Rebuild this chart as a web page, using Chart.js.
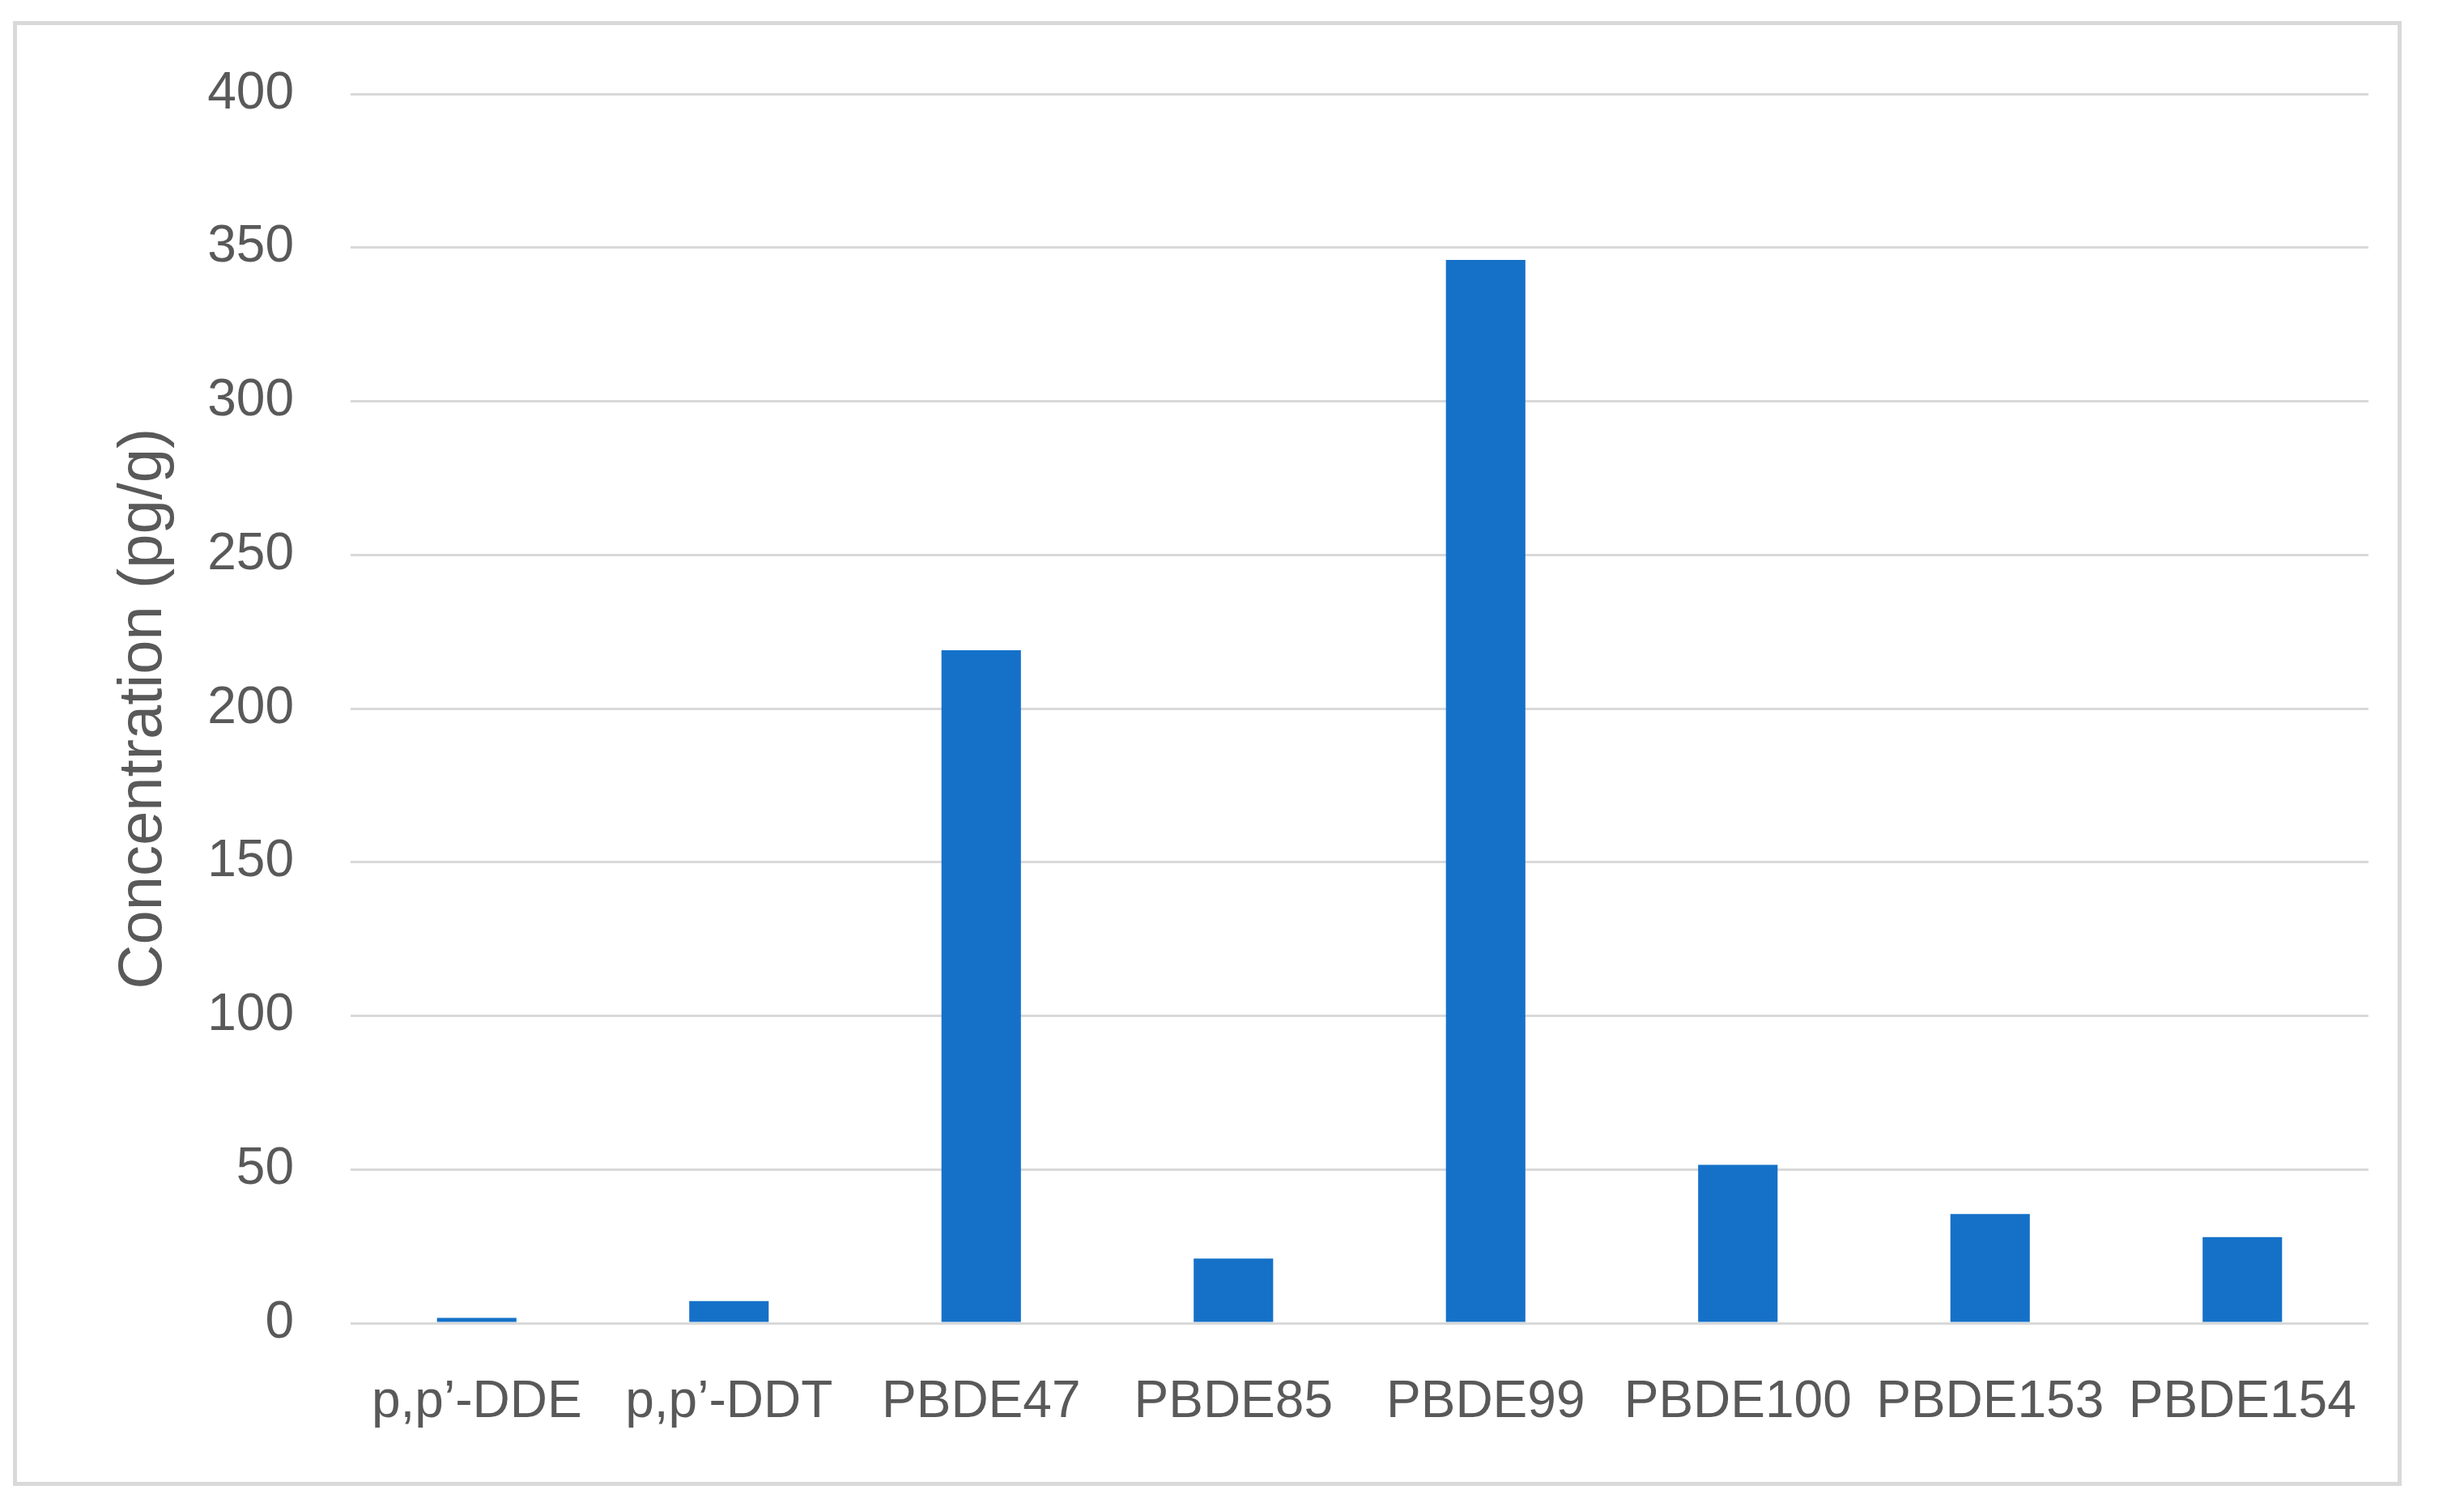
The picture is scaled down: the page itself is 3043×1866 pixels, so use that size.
<!DOCTYPE html>
<html>
<head>
<meta charset="utf-8">
<script src="https://cdn.jsdelivr.net/npm/chart.js@4"></script>
<style>
  html, body { margin: 0; padding: 0; background: #fff; }
  #wrap { position: relative; width: 3043px; height: 1866px; }
  #frame {
    position: absolute; left: 16px; top: 26px; width: 2950px; height: 1809px;
    box-sizing: border-box; border: 5px solid #d9d9d9; pointer-events: none;
  }
</style>
</head>
<body>
<div id="wrap">
  <canvas id="chart1" width="3043" height="1866"></canvas>
  <div id="frame"></div>
</div>
<script>
const labels = ['p,p\u2019-DDE', 'p,p\u2019-DDT', 'PBDE47', 'PBDE85', 'PBDE99', 'PBDE100', 'PBDE153', 'PBDE154'];
const values = [1.7, 7.2, 219, 21, 346, 51.5, 35.5, 28];
const yTicks = [0, 50, 100, 150, 200, 250, 300, 350, 400];

const textColor = '#595959';
const fontName = '"Liberation Sans", Arial, sans-serif';

const ctx1 = document.getElementById('chart1').getContext('2d');

const myChart1 = new Chart(ctx1, {
    type: 'bar',
    data: {
        labels: labels,
        datasets: [{ label: 'Concentration', data: values, backgroundColor: '#1571c8', borderWidth: 0,
            barPercentage: 0.315, categoryPercentage: 1 }]
    },
    options: {
        responsive: false,
        animation: false,
        layout: { padding: { left: 132, right: 118, top: 116, bottom: 0 } },
        plugins: { legend: { display: false }, tooltip: { enabled: false } },
        scales: {
            x: {
                grid: { display: false, drawTicks: false },
                border: { display: false },
                ticks: { color: textColor, font: { family: fontName, size: 64 }, padding: 60, maxRotation: 0 },
                afterFit: (scale) => { scale.height = 232; }
            },
            y: {
                min: 0, max: 400,
                afterBuildTicks: (scale) => { scale.ticks = yTicks.map(v => ({ value: v })); },
                grid: { color: '#d9d9d9', lineWidth: 3, drawTicks: false },
                border: { display: false },
                ticks: { color: textColor, font: { family: fontName, size: 64 }, padding: 70 },
                title: { display: true, text: 'Concentration (pg/g)', color: textColor,
                    font: { family: fontName, size: 76 }, padding: 0 },
                afterFit: (scale) => { scale.width = 433 - 132; }
            }
        }
    }
});
</script>
</body>
</html>
